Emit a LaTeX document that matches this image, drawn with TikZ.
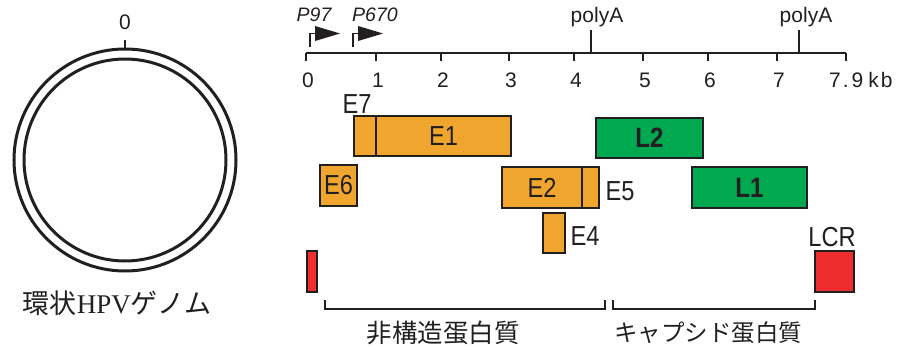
\documentclass[tikz,border=0pt]{standalone}
\usepackage{fontspec}
\setmainfont{Liberation Sans}
\newfontfamily\narrow[FakeStretch=0.86]{Liberation Sans}
\newfontfamily\cjk{Noto Sans CJK JP}
\newfontfamily\serifr{Liberation Serif}
\definecolor{ink}{HTML}{231F20}
\definecolor{orng}{HTML}{F0A62E}
\definecolor{grn}{HTML}{00A84F}
\definecolor{rd}{HTML}{EE2D2E}
\tikzset{
  gbox/.style={draw=ink, line width=2pt, inner sep=0pt, outer sep=0pt, anchor=north west, text=ink,
    font=\narrow\fontsize{27.5}{27.5}\selectfont},
  ebox/.style={gbox, fill=orng},
  lbox/.style={gbox, fill=grn, font=\narrow\bfseries\fontsize{28}{28}\selectfont},
  rbox/.style={gbox, fill=rd},
  glabel/.style={text=ink, inner sep=0pt, font=\narrow\fontsize{27.5}{27.5}\selectfont},
  axlabel/.style={text=ink, inner sep=0pt, font=\fontsize{21}{21}\selectfont},
  plabel/.style={text=ink, inner sep=0pt, font=\itshape\fontsize{19.5}{19.5}\selectfont},
  jlabel/.style={text=ink, inner sep=0pt, font=\cjk\fontsize{25.5}{25.5}\selectfont},
  axis/.style={draw=ink, line width=2.6pt},
  thin/.style={draw=ink, line width=2pt},
  ring/.style={circle, draw=ink, line width=3pt, inner sep=0pt},
}
\begin{document}
\begin{tikzpicture}[x=1pt, y=-1pt]
\useasboundingbox (0,0) rectangle (903,348);
% circular genome
\node[ring, minimum size=222pt] (outer) at (125,160) {};
\node[ring, minimum size=202pt] (inner) at (125,160) {};
\coordinate (zt) at (125,40);
\draw[thin, line width=2.5pt] (zt) -- (outer.north);
\node[axlabel] (zero) at (125,22) {0};
\node[text=ink, inner sep=0pt] (genome) at (117,303)
  {\cjk\fontsize{27}{27}\selectfont 環状{\serifr HPV}ゲノム};
% axis
\coordinate (a0) at (306,53);
\coordinate (a79) at (846,53);
\draw[axis] (a0) -- (a79);
\foreach \k/\xx in {0/306,1/376,2/441,3/509,4/574,5/643,6/708,7/777} {
  \coordinate (t\k) at (\xx,53);
  \coordinate (b\k) at (\xx,61);
  \draw[axis, line width=2.2pt] (t\k) -- (b\k);
  \node[axlabel] (n\k) at (\xx+2,80) {\k};
}
\coordinate (b79) at (846,61);
\draw[axis, line width=2.2pt] (a79) -- (b79);
\node[axlabel, anchor=west] (n79) at (829,80) {7\hspace{2pt}.\hspace{3pt}9\hspace{5pt}k\hspace{2pt}b};
% polyA
\coordinate (pa1t) at (591,30); \coordinate (pa1b) at (591,53);
\coordinate (pa2t) at (799,30); \coordinate (pa2b) at (799,53);
\draw[thin] (pa1t) -- (pa1b);
\draw[thin] (pa2t) -- (pa2b);
\node[axlabel] (polyA1) at (597,17) {polyA};
\node[axlabel] (polyA2) at (806,17) {polyA};
% promoters
\foreach \nm/\px/\lx/\lab in {p97/310/314/P97, p670/353/375/P670} {
  \coordinate (\nm b) at (\px,47);
  \coordinate (\nm c) at (\px,33.5);
  \coordinate (\nm d) at (\px+5,33.5);
  \draw[thin, line width=1.8pt] (\nm b) -- (\nm c) -- (\nm d);
  \fill[ink] (\px+5,26) -- (\px+30,33.5) -- (\px+5,41) -- cycle;
  \node[plabel] (\nm lab) at (\lx,15) {\lab};
}
% early genes
\node[ebox, minimum width=22pt, minimum height=40pt] (E7) at (354,116) {};
\node[ebox, minimum width=135pt, minimum height=40pt] (E1) at (376,116) {E1};
\node[glabel] (E7lab) at (357,104) {E7};
\node[ebox, minimum width=37pt, minimum height=41pt] (E6) at (320,165) {E6};
\node[ebox, minimum width=80pt, minimum height=41pt] (E2) at (502,167) {E2};
\node[ebox, minimum width=17pt, minimum height=41pt] (E5) at (582,167) {};
\node[glabel] (E5lab) at (620,191) {E5};
\node[ebox, minimum width=22pt, minimum height=40pt] (E4) at (543,213) {};
\node[glabel] (E4lab) at (585,236) {E4};
% late genes
\node[lbox, minimum width=107pt, minimum height=40pt] (L2) at (596,118) {L2};
\node[lbox, minimum width=115pt, minimum height=41pt] (L1) at (692,167) {L1};
% LCR
\node[rbox, minimum width=10pt, minimum height=41pt] (lcrL) at (307,251) {};
\node[rbox, minimum width=39pt, minimum height=41pt] (lcrR) at (815,251) {};
\node[glabel] (LCRlab) at (832,237) {LCR};
% brackets
\coordinate (br1a) at (325,300); \coordinate (br1b) at (605,300);
\coordinate (br2a) at (613,300); \coordinate (br2b) at (815,300);
\draw[thin] (br1a) -- ++(0,9) -| (br1b);
\draw[thin] (br2a) -- ++(0,9) -| (br2b);
\node[jlabel] (ns) at (443,333) {非構造蛋白質};
\node[jlabel, font=\cjk\fontsize{23.5}{23.5}\selectfont] (cap) at (708,333) {キャプシド蛋白質};
\end{tikzpicture}
\end{document}
